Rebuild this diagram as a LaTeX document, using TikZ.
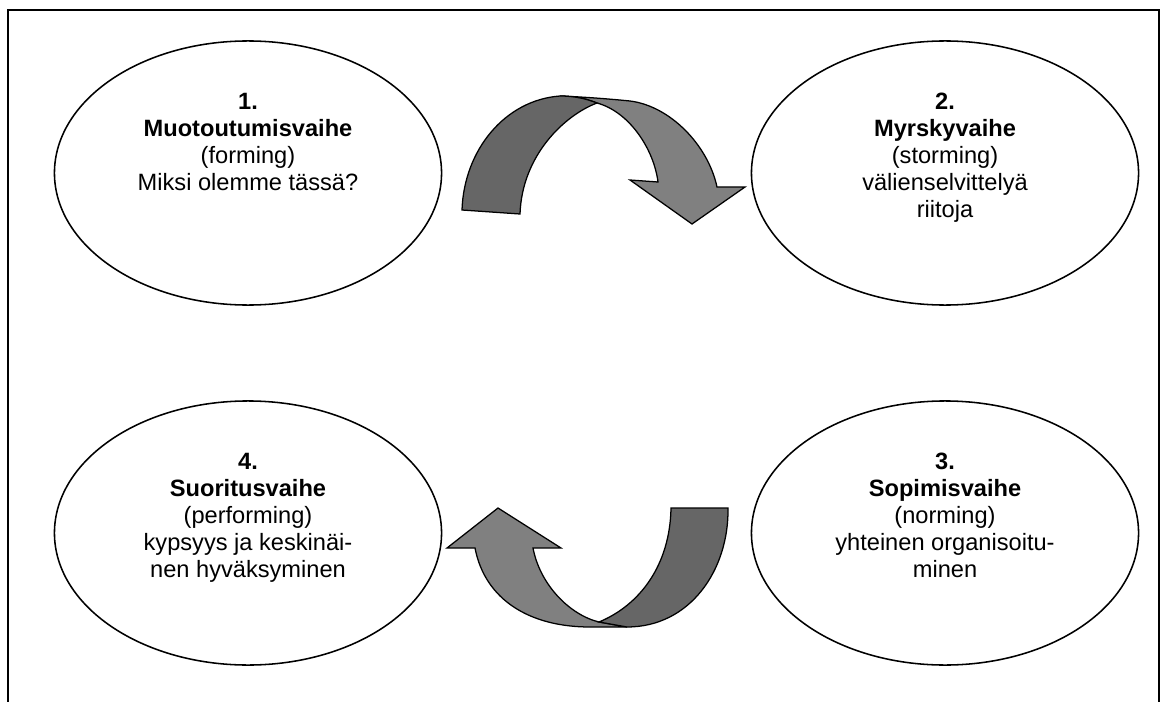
\documentclass[tikz,border=0pt]{standalone}
\usepackage{fontspec}
\setmainfont{Liberation Sans}
\usepackage{xcolor}
\usepackage{tikz}
\usetikzlibrary{shapes.geometric, positioning}

\definecolor{banddark}{gray}{0.4}
\definecolor{bandlight}{gray}{0.5}

\begin{document}
\begin{tikzpicture}[x=0.025cm, y=-0.025cm, line width=1.1pt]
\tikzstyle{phase}=[ellipse, draw, minimum width=9.675cm, minimum height=6.6cm, inner sep=0pt]
\tikzstyle{txt}=[align=center, inner sep=0pt, font=\fontsize{16.8}{19.2}\selectfont]
\tikzstyle{band}=[draw, line width=0.9pt, line join=miter]

\useasboundingbox (0,0) rectangle (1163,702);
\draw (8,702) -- (8,10) -- (1159,10) -- (1159,702);

\node[phase] (e1) at (248,173) {};
\node[phase] (e2) at (945,173) {};
\node[phase] (e3) at (945,533) {};
\node[phase] (e4) at (248,533) {};

\node[txt, below=1.3cm of e1.north] (t1) {\textbf{1.}\\\textbf{Muotoutumisvaihe}\\(forming)\\Miksi olemme tässä?};
\node[txt, below=1.3cm of e2.north] (t2) {\textbf{2.}\\\textbf{Myrskyvaihe}\\(storming)\\välienselvittelyä\\riitoja};
\node[txt, below=1.3cm of e3.north] (t3) {\textbf{3.}\\\textbf{Sopimisvaihe}\\(norming)\\yhteinen organisoitu-\\minen};
\node[txt, below=1.3cm of e4.north] (t4) {\textbf{4.}\\\textbf{Suoritusvaihe}\\(performing)\\kypsyys ja keskinäi-\\nen hyväksyminen};

% upper arrow, 1 -> 2
\filldraw[band, fill=bandlight] (560,96) .. controls (585,97) and (610,99) .. (630,101)
  .. controls (670,106) and (708,145) .. (717,187) -- (745,187) -- (692,224) -- (630,180) -- (658,182)
  .. controls (654,150) and (630,112) .. (597,103) .. controls (587,99) and (575,96) .. (560,96) -- cycle;
\filldraw[band, fill=banddark] (462,210) .. controls (464,150) and (505,100) .. (560,96)
  .. controls (575,96) and (587,99) .. (597,103) .. controls (565,115) and (522,155) .. (520,214) -- cycle;

% lower arrow, 3 -> 4
\filldraw[band, fill=bandlight] (590,627) .. controls (530,627) and (485,600) .. (475,548)
  -- (447,548) -- (498,508) -- (561,548) -- (533,548)
  .. controls (540,585) and (570,615) .. (599,622) -- (627,627) -- cycle;
\filldraw[band, fill=banddark] (671,508) -- (728,508) .. controls (729,570) and (690,627) .. (627,627)
  -- (599,622) .. controls (640,605) and (670,565) .. (671,508) -- cycle;
\end{tikzpicture}
\end{document}
